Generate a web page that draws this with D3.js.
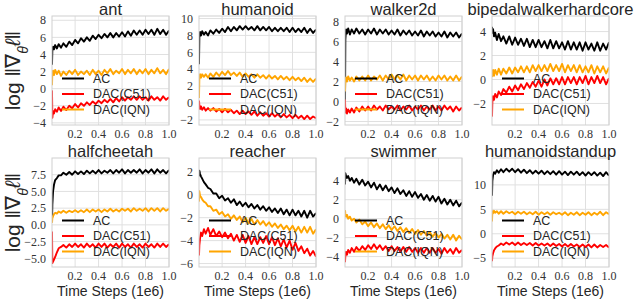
<!DOCTYPE html>
<html>
<head>
<meta charset="utf-8">
<script src="https://cdn.jsdelivr.net/npm/d3@7"></script>
<style>
  body { margin: 0; background: #fff; }
  text.tick-label { font-family: "Liberation Serif", "DejaVu Serif", "Times New Roman", serif; font-size: 12px; fill: #333; }
  text.title { font-family: "Liberation Sans", Arial, sans-serif; font-size: 16.5px; fill: #262626; }
  text.legend-text { font-family: "Liberation Sans", Arial, sans-serif; font-size: 12.5px; fill: #262626; }
  text.axis-label { font-family: "Liberation Sans", Arial, sans-serif; fill: #262626; }
</style>
</head>
<body>
<div id="chart"></div>
<script>
const width = 640,
  height = 300,
  colLeft = [52, 199, 345, 492],
  rowTop = [16, 158],
  plotW = 117,
  plotH = 109;

// time steps (1e6) at which the curves are sampled
const steps = [0.003, 0.006, 0.012, 0.02, 0.03, 0.045, 0.06, 0.08, 0.1, 0.125, 0.15, 0.175, 0.2, 0.225, 0.25, 0.275, 0.3, 0.325, 0.35, 0.375, 0.4, 0.425, 0.45, 0.475, 0.5, 0.525, 0.55, 0.575, 0.6, 0.625, 0.65, 0.675, 0.7, 0.725, 0.75, 0.775, 0.8, 0.825, 0.85, 0.875, 0.9, 0.925, 0.95, 0.975, 1.0];
const xTicks = [0.2, 0.4, 0.6, 0.8, 1.0];

const envNames = ["ant", "humanoid", "walker2d", "bipedalwalkerhardcore", "halfcheetah", "reacher", "swimmer", "humanoidstandup"];
const seriesNames = ["AC", "DAC(C51)", "DAC(IQN)"];
const seriesColors = ["#000000", "#ff0000", "#ffa500"];

const yDomains = [[-4.25, 8.5], [-2.6, 10.3], [-2.35, 8.55], [-3.8, 5.3], [-6.3, 10.0], [-6.3, 3.2], [-5.1, 6.4], [-6.8, 15.5]];
const yTicks = [[-4, -2, 0, 2, 4, 6, 8], [-2, 0, 2, 4, 6, 8, 10], [-2, 0, 2, 4, 6, 8], [-2, 0, 2, 4], [-5, -2.5, 0, 2.5, 5, 7.5], [-6, -4, -2, 0, 2], [-4, -2, 0, 2, 4], [-5, 0, 5, 10]];

const antAC = [2.8, 4.5, 4.9, 4.6, 5.1, 4.7, 5.2, 4.8, 5.3, 4.9, 5.5, 5.1, 5.7, 5.3, 5.9, 5.5, 6.0, 5.6, 6.2, 5.8, 6.3, 5.9, 6.4, 6.0, 6.5, 6.0, 6.5, 6.1, 6.6, 6.1, 6.7, 6.2, 6.8, 6.3, 6.8, 6.3, 6.9, 6.4, 6.9, 6.3, 7.0, 6.4, 6.9, 6.3, 6.8];
const antC51 = [-0.2, -3.4, -2.6, -2.9, -2.4, -2.7, -2.2, -2.6, -2.1, -2.5, -2.0, -2.3, -1.8, -2.2, -1.7, -2.0, -1.6, -1.9, -1.5, -1.8, -1.4, -1.7, -1.3, -1.6, -1.2, -1.6, -1.1, -1.5, -1.0, -1.4, -1.0, -1.3, -0.9, -1.3, -0.9, -1.3, -1.0, -1.4, -0.9, -1.3, -1.0, -1.4, -0.9, -1.3, -1.0];
const antIQN = [0.4, 1.9, 2.1, 1.6, 2.2, 1.7, 2.1, 1.5, 2.0, 1.6, 2.1, 1.7, 2.2, 1.6, 2.0, 1.7, 2.1, 1.6, 2.2, 1.7, 2.1, 1.6, 2.2, 1.8, 2.3, 1.7, 2.1, 1.8, 2.3, 1.7, 2.2, 1.8, 2.3, 1.7, 2.2, 1.8, 2.3, 1.7, 2.2, 1.8, 2.4, 1.8, 2.2, 1.7, 2.3];

const humanoidAC = [4.6, 7.8, 8.4, 8.0, 8.5, 8.1, 8.4, 8.0, 8.6, 8.2, 8.7, 8.3, 8.8, 8.4, 9.0, 8.5, 9.0, 8.6, 9.1, 8.7, 9.1, 8.7, 9.0, 8.6, 9.1, 8.6, 9.0, 8.6, 9.0, 8.5, 8.9, 8.5, 8.9, 8.5, 8.9, 8.4, 8.9, 8.4, 8.8, 8.4, 8.9, 8.3, 8.8, 8.3, 8.7];
const humanoidC51 = [0.3, -0.3, -0.7, -0.4, -0.8, -0.5, -0.9, -0.6, -0.9, -0.6, -1.0, -0.7, -1.1, -0.7, -1.1, -0.8, -1.2, -0.9, -1.3, -0.9, -1.3, -1.0, -1.4, -1.0, -1.5, -1.1, -1.5, -1.2, -1.6, -1.2, -1.6, -1.3, -1.7, -1.3, -1.7, -1.4, -1.8, -1.4, -1.8, -1.5, -1.9, -1.5, -1.9, -1.6, -1.8];
const humanoidIQN = [0.6, 3.0, 3.4, 3.0, 3.4, 3.1, 3.4, 3.0, 3.5, 3.1, 3.6, 3.2, 3.7, 3.3, 3.8, 3.3, 3.6, 3.2, 3.6, 3.1, 3.5, 3.1, 3.4, 3.0, 3.4, 3.0, 3.3, 2.9, 3.3, 2.9, 3.2, 2.8, 3.2, 2.8, 3.1, 2.7, 3.1, 2.7, 3.0, 2.6, 3.0, 2.5, 2.9, 2.5, 2.9];

const walkerAC = [-0.5, 6.2, 7.2, 6.8, 7.3, 6.7, 7.2, 6.8, 7.3, 6.8, 7.2, 6.7, 7.2, 6.8, 7.3, 6.7, 7.2, 6.8, 7.2, 6.7, 7.1, 6.7, 7.2, 6.6, 7.1, 6.7, 7.1, 6.6, 7.0, 6.6, 7.1, 6.5, 7.0, 6.6, 7.0, 6.5, 6.9, 6.5, 7.0, 6.4, 6.9, 6.5, 6.9, 6.4, 6.8];
const walkerC51 = [0.2, -1.1, -0.7, -1.2, -0.8, -1.1, -0.7, -1.1, -0.6, -1.0, -0.5, -0.9, -0.5, -0.9, -0.4, -0.8, -0.5, -0.9, -0.4, -0.8, -0.5, -0.8, -0.4, -0.9, -0.5, -0.8, -0.4, -0.9, -0.5, -0.8, -0.4, -0.9, -0.5, -0.8, -0.4, -0.9, -0.5, -0.9, -0.4, -0.8, -0.5, -1.0, -0.5, -0.9, -0.6];
const walkerIQN = [1.0, 2.0, 2.4, 2.0, 2.5, 2.1, 2.4, 2.0, 2.5, 2.1, 2.5, 2.1, 2.6, 2.1, 2.5, 2.2, 2.6, 2.1, 2.6, 2.2, 2.7, 2.2, 2.6, 2.2, 2.7, 2.1, 2.6, 2.2, 2.6, 2.1, 2.6, 2.2, 2.6, 2.1, 2.5, 2.1, 2.6, 2.2, 2.6, 2.1, 2.5, 2.1, 2.6, 2.1, 2.5];

const bipedalAC = [4.4, 3.9, 4.2, 3.6, 3.9, 3.3, 3.8, 3.2, 3.6, 3.0, 3.6, 2.9, 3.5, 2.9, 3.4, 2.8, 3.4, 2.7, 3.3, 2.7, 3.3, 2.7, 3.2, 2.6, 3.3, 2.6, 3.2, 2.6, 3.1, 2.5, 3.2, 2.5, 3.1, 2.5, 3.1, 2.4, 3.1, 2.5, 3.0, 2.4, 3.1, 2.4, 3.0, 2.5, 3.1];
const bipedalC51 = [-3.1, -1.9, -1.4, -1.7, -1.2, -1.5, -1.0, -1.3, -0.8, -1.1, -0.6, -1.0, -0.5, -0.9, -0.4, -0.8, -0.3, -0.7, -0.2, -0.6, -0.1, -0.6, 0.0, -0.5, 0.1, -0.4, 0.1, -0.4, 0.2, -0.4, 0.2, -0.3, 0.2, -0.4, 0.2, -0.3, 0.3, -0.4, 0.2, -0.3, 0.3, -0.3, 0.2, -0.4, 0.1];
const bipedalIQN = [0.2, 0.4, 0.8, 0.3, 0.8, 0.4, 0.9, 0.4, 0.9, 0.5, 1.0, 0.5, 1.0, 0.6, 1.1, 0.6, 1.1, 0.6, 1.2, 0.7, 1.2, 0.7, 1.2, 0.7, 1.3, 0.7, 1.2, 0.7, 1.3, 0.6, 1.2, 0.7, 1.2, 0.6, 1.2, 0.6, 1.1, 0.6, 1.2, 0.5, 1.1, 0.6, 1.1, 0.5, 1.0];

const cheetahAC = [0.5, 3.0, 5.0, 6.0, 6.7, 7.0, 7.4, 7.4, 7.8, 7.5, 7.9, 7.5, 8.0, 7.6, 8.0, 7.6, 8.1, 7.7, 8.1, 7.7, 8.2, 7.7, 8.1, 7.8, 8.2, 7.7, 8.2, 7.8, 8.3, 7.7, 8.2, 7.8, 8.2, 7.8, 8.3, 7.7, 8.2, 7.8, 8.3, 7.7, 8.3, 7.8, 8.2, 7.7, 8.2];
const cheetahC51 = [-1.0, -5.7, -5.5, -5.2, -4.8, -4.1, -3.5, -3.3, -3.0, -3.4, -2.9, -3.3, -2.8, -3.3, -2.9, -3.4, -2.8, -3.3, -2.9, -3.4, -2.8, -3.3, -2.8, -3.4, -2.9, -3.3, -2.8, -3.4, -2.8, -3.3, -2.9, -3.4, -2.8, -3.3, -2.9, -3.4, -2.8, -3.3, -2.9, -3.4, -2.8, -3.3, -2.8, -3.3, -2.9];
const cheetahIQN = [0.3, 1.0, 1.3, 1.6, 1.8, 1.7, 2.0, 1.8, 2.1, 1.8, 2.1, 1.9, 2.2, 1.9, 2.2, 1.9, 2.3, 1.9, 2.3, 2.0, 2.3, 1.9, 2.3, 2.0, 2.4, 2.0, 2.3, 2.0, 2.4, 2.1, 2.4, 2.0, 2.5, 2.1, 2.4, 2.1, 2.5, 2.0, 2.5, 2.1, 2.5, 2.0, 2.5, 2.1, 2.4];

const reacherAC = [1.6, 2.1, 1.8, 1.6, 1.4, 1.1, 0.9, 0.6, 0.5, 0.1, 0.1, -0.3, -0.1, -0.5, -0.3, -0.7, -0.4, -0.9, -0.6, -1.0, -0.7, -1.1, -0.8, -1.2, -0.9, -1.3, -1.0, -1.4, -1.1, -1.5, -1.2, -1.6, -1.2, -1.7, -1.3, -1.8, -1.3, -1.8, -1.4, -1.9, -1.4, -2.0, -1.4, -1.9, -1.6];
const reacherC51 = [-5.3, -4.4, -3.8, -3.3, -3.6, -3.0, -3.4, -2.9, -3.5, -3.0, -3.6, -3.2, -3.7, -3.3, -3.8, -3.4, -4.0, -3.5, -4.1, -3.5, -4.2, -3.6, -4.3, -3.7, -4.3, -3.7, -4.2, -3.6, -4.3, -3.7, -4.4, -3.8, -4.5, -3.9, -4.6, -4.0, -4.8, -4.2, -4.9, -4.5, -5.1, -4.7, -5.3, -4.9, -5.4];
const reacherIQN = [-0.6, 0.3, -0.1, -0.2, -0.4, -0.6, -0.7, -1.0, -1.0, -1.4, -1.3, -1.7, -1.5, -1.9, -1.7, -2.1, -1.8, -2.2, -1.9, -2.4, -2.0, -2.5, -2.1, -2.6, -2.2, -2.6, -2.3, -2.7, -2.4, -2.8, -2.5, -2.9, -2.6, -3.0, -2.7, -3.1, -2.7, -3.2, -2.8, -3.3, -2.8, -3.3, -2.8, -3.4, -3.0];

const swimmerAC = [3.6, 4.8, 4.5, 4.3, 4.5, 4.0, 4.3, 3.8, 4.2, 3.6, 4.1, 3.5, 3.9, 3.3, 3.8, 3.1, 3.6, 3.0, 3.5, 2.9, 3.3, 2.7, 3.2, 2.6, 3.0, 2.4, 2.9, 2.3, 2.8, 2.2, 2.6, 2.0, 2.5, 1.9, 2.4, 1.8, 2.3, 1.6, 2.1, 1.5, 2.0, 1.4, 1.9, 1.3, 1.7];
const swimmerC51 = [-4.6, -3.9, -3.5, -3.8, -3.3, -3.6, -3.1, -3.5, -3.0, -3.4, -2.9, -3.3, -2.8, -3.2, -2.7, -3.2, -2.8, -3.3, -2.9, -3.4, -2.9, -3.4, -3.0, -3.5, -3.0, -3.5, -3.0, -3.5, -3.1, -3.6, -3.1, -3.6, -3.1, -3.6, -3.1, -3.6, -3.2, -3.7, -3.1, -3.6, -3.2, -3.7, -3.1, -3.6, -3.3];
const swimmerIQN = [0.9, 0.5, 0.2, 0.4, 0.0, 0.2, -0.2, 0.0, -0.4, -0.1, -0.6, -0.3, -0.8, -0.4, -0.9, -0.5, -1.0, -0.6, -1.1, -0.7, -1.2, -0.8, -1.3, -0.9, -1.4, -1.0, -1.5, -1.1, -1.6, -1.2, -1.7, -1.3, -1.8, -1.4, -1.9, -1.5, -2.0, -1.6, -2.1, -1.7, -2.2, -1.7, -2.3, -1.8, -2.2];

const standupAC = [7.8, 10.8, 12.0, 12.6, 12.3, 13.0, 12.5, 13.2, 12.6, 13.3, 12.7, 13.3, 12.6, 13.2, 12.5, 13.1, 12.4, 13.0, 12.3, 12.9, 12.3, 12.9, 12.2, 12.8, 12.2, 12.8, 12.1, 12.8, 12.1, 12.7, 12.0, 12.7, 12.1, 12.7, 12.0, 12.6, 11.9, 12.6, 12.0, 12.6, 11.9, 12.5, 11.8, 12.6, 11.9];
const standupC51 = [-5.6, -4.6, -4.0, -3.4, -3.0, -2.6, -2.4, -2.0, -2.3, -1.8, -2.2, -1.8, -2.3, -1.8, -2.3, -1.9, -2.3, -1.9, -2.4, -1.9, -2.4, -2.0, -2.4, -2.0, -2.5, -2.0, -2.5, -2.1, -2.6, -2.1, -2.6, -2.1, -2.6, -2.2, -2.7, -2.2, -2.7, -2.2, -2.8, -2.2, -2.8, -2.3, -2.7, -2.3, -2.8];
const standupIQN = [2.5, 4.6, 4.2, 4.7, 4.3, 4.6, 4.1, 4.6, 4.1, 4.6, 4.2, 4.5, 4.0, 4.5, 4.1, 4.5, 4.0, 4.4, 4.0, 4.5, 3.9, 4.4, 4.0, 4.4, 3.9, 4.4, 4.0, 4.3, 3.9, 4.4, 3.8, 4.3, 3.9, 4.4, 3.8, 4.3, 3.9, 4.4, 3.8, 4.3, 3.9, 4.5, 3.8, 4.4, 4.0];

const seriesByEnv = [
  [antAC, antC51, antIQN],
  [humanoidAC, humanoidC51, humanoidIQN],
  [walkerAC, walkerC51, walkerIQN],
  [bipedalAC, bipedalC51, bipedalIQN],
  [cheetahAC, cheetahC51, cheetahIQN],
  [reacherAC, reacherC51, reacherIQN],
  [swimmerAC, swimmerC51, swimmerIQN],
  [standupAC, standupC51, standupIQN]
];

const serifFont = '"Liberation Serif", "DejaVu Serif", "Times New Roman", serif';

const svg = d3.select("#chart")
  .append("svg")
  .attr("width", width)
  .attr("height", height);

envNames.forEach((name, k) => {
  const row = Math.floor(k / 4), col = k % 4;
  const left = colLeft[col], top = rowTop[row];

  const xScale = d3.scaleLinear().domain([0.003, 1.0]).range([0, plotW]);
  const yScale = d3.scaleLinear().domain(yDomains[k]).range([plotH, 0]);
  const yFmt = name === "halfcheetah" ? d3.format(".1f") : d3.format("d");

  const g = svg.append("g").attr("transform", `translate(${left},${top})`);

  g.append("rect")
    .attr("width", plotW)
    .attr("height", plotH)
    .attr("fill", "#fff");

  g.append("clipPath")
    .attr("id", "clip" + k)
    .append("rect")
    .attr("width", plotW)
    .attr("height", plotH);

  // grid
  g.selectAll(".gx")
    .data(xTicks)
    .join("line")
    .attr("x1", d => xScale(d))
    .attr("x2", d => xScale(d))
    .attr("y1", 0)
    .attr("y2", plotH)
    .attr("stroke", "#e0e0e0")
    .attr("stroke-width", 1);

  g.selectAll(".gy")
    .data(yTicks[k])
    .join("line")
    .attr("x1", 0)
    .attr("x2", plotW)
    .attr("y1", d => yScale(d))
    .attr("y2", d => yScale(d))
    .attr("stroke", "#e0e0e0")
    .attr("stroke-width", 1);

  // tick labels
  g.selectAll(".xt")
    .data(xTicks)
    .join("text")
    .attr("class", "tick-label")
    .style("font-family", serifFont)
    .attr("x", d => xScale(d))
    .attr("y", plotH + 13)
    .attr("text-anchor", "middle")
    .text(d3.format(".1f"));

  g.selectAll(".yt")
    .data(yTicks[k])
    .join("text")
    .attr("class", "tick-label")
    .style("font-family", serifFont)
    .attr("x", -6)
    .attr("y", d => yScale(d))
    .attr("dy", "0.35em")
    .attr("text-anchor", "end")
    .text(yFmt);

  // curves
  const line = d3.line()
    .x((d, i) => xScale(steps[i]))
    .y(d => yScale(d));

  g.append("g")
    .attr("clip-path", `url(#clip${k})`)
    .selectAll("path")
    .data(seriesByEnv[k])
    .join("path")
    .attr("d", line)
    .attr("fill", "none")
    .attr("stroke", (d, i) => seriesColors[i])
    .attr("stroke-width", 1.9)
    .attr("stroke-linejoin", "round");

  // frame
  g.append("rect")
    .attr("width", plotW)
    .attr("height", plotH)
    .attr("fill", "none")
    .attr("stroke", "#d0d0d0")
    .attr("stroke-width", 1);

  // legend
  const legend = g.selectAll(".legend")
    .data(seriesNames)
    .join("g")
    .attr("transform", (d, i) => `translate(10,${62.5 + i * 15.5})`);

  legend.append("line")
    .attr("x1", 0)
    .attr("x2", 22)
    .attr("stroke", (d, i) => seriesColors[i])
    .attr("stroke-width", 2);

  legend.append("text")
    .attr("class", "legend-text")
    .attr("x", 31)
    .attr("dy", "0.35em")
    .text(d => d);

  // title
  g.append("text")
    .attr("class", "title")
    .attr("x", plotW / 2)
    .attr("y", -1.5)
    .attr("text-anchor", "middle")
    .text(name);

  if (row === 1) {
    g.append("text")
      .attr("class", "axis-label")
      .attr("x", plotW / 2)
      .attr("y", plotH + 29)
      .attr("text-anchor", "middle")
      .style("font-size", "14px")
      .text("Time Steps (1e6)");
  }

  if (col === 0) {
    const yl = g.append("text")
      .attr("class", "axis-label")
      .attr("transform", `translate(-32,${plotH / 2}) rotate(-90)`)
      .attr("text-anchor", "middle")
      .style("font-size", "21px");
    yl.append("tspan").text("log \u2016\u2207");
    yl.append("tspan").attr("baseline-shift", "sub").style("font-size", "14px").style("font-style", "italic").text("\u03b8");
    yl.append("tspan").style("font-style", "italic").text("\u2113");
    yl.append("tspan").text("\u2016");
  }
});
</script>
</body>
</html>
